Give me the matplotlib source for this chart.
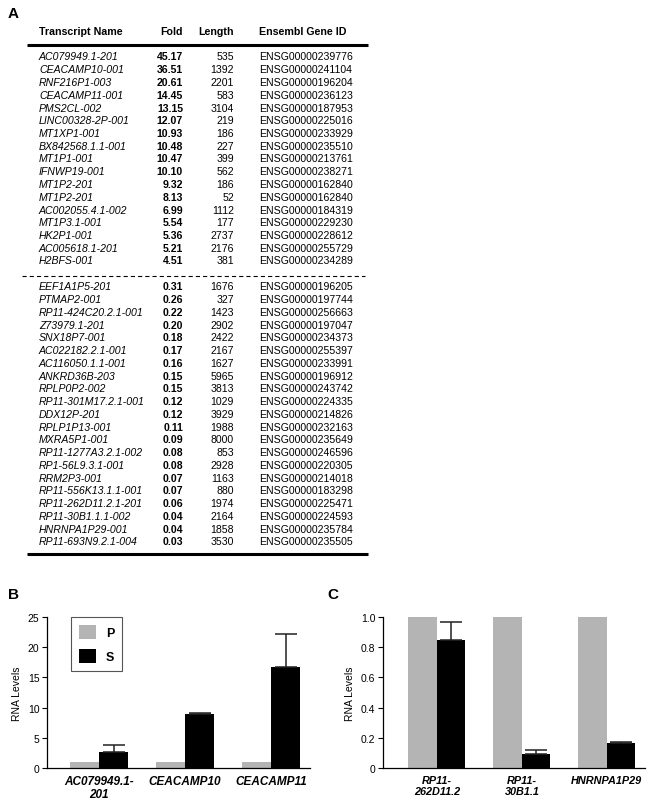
import matplotlib
matplotlib.use('Agg')
import matplotlib.pyplot as plt
import numpy as np

plt.rcParams['font.family'] = ['Liberation Sans', 'DejaVu Sans']
plt.rcParams['lines.scale_dashes'] = False

# ---- table data (panel A) ----
up_names = ['AC079949.1-201', 'CEACAMP10-001', 'RNF216P1-003', 'CEACAMP11-001',
            'PMS2CL-002', 'LINC00328-2P-001', 'MT1XP1-001', 'BX842568.1.1-001',
            'MT1P1-001', 'IFNWP19-001', 'MT1P2-201', 'MT1P2-201',
            'AC002055.4.1-002', 'MT1P3.1-001', 'HK2P1-001', 'AC005618.1-201',
            'H2BFS-001']
up_fold = [45.17, 36.51, 20.61, 14.45, 13.15, 12.07, 10.93, 10.48, 10.47, 10.10,
           9.32, 8.13, 6.99, 5.54, 5.36, 5.21, 4.51]
up_length = [535, 1392, 2201, 583, 3104, 219, 186, 227, 399, 562, 186, 52, 1112,
             177, 2737, 2176, 381]
up_ensembl = ['ENSG00000239776', 'ENSG00000241104', 'ENSG00000196204',
              'ENSG00000236123', 'ENSG00000187953', 'ENSG00000225016',
              'ENSG00000233929', 'ENSG00000235510', 'ENSG00000213761',
              'ENSG00000238271', 'ENSG00000162840', 'ENSG00000162840',
              'ENSG00000184319', 'ENSG00000229230', 'ENSG00000228612',
              'ENSG00000255729', 'ENSG00000234289']

down_names = ['EEF1A1P5-201', 'PTMAP2-001', 'RP11-424C20.2.1-001', 'Z73979.1-201',
              'SNX18P7-001', 'AC022182.2.1-001', 'AC116050.1.1-001', 'ANKRD36B-203',
              'RPLP0P2-002', 'RP11-301M17.2.1-001', 'DDX12P-201', 'RPLP1P13-001',
              'MXRA5P1-001', 'RP11-1277A3.2.1-002', 'RP1-56L9.3.1-001',
              'RRM2P3-001', 'RP11-556K13.1.1-001', 'RP11-262D11.2.1-201',
              'RP11-30B1.1.1-002', 'HNRNPA1P29-001', 'RP11-693N9.2.1-004']
down_fold = [0.31, 0.26, 0.22, 0.20, 0.18, 0.17, 0.16, 0.15, 0.15, 0.12, 0.12,
             0.11, 0.09, 0.08, 0.08, 0.07, 0.07, 0.06, 0.04, 0.04, 0.03]
down_length = [1676, 327, 1423, 2902, 2422, 2167, 1627, 5965, 3813, 1029, 3929,
               1988, 8000, 853, 2928, 1163, 880, 1974, 2164, 1858, 3530]
down_ensembl = ['ENSG00000196205', 'ENSG00000197744', 'ENSG00000256663',
                'ENSG00000197047', 'ENSG00000234373', 'ENSG00000255397',
                'ENSG00000233991', 'ENSG00000196912', 'ENSG00000243742',
                'ENSG00000224335', 'ENSG00000214826', 'ENSG00000232163',
                'ENSG00000235649', 'ENSG00000246596', 'ENSG00000220305',
                'ENSG00000214018', 'ENSG00000183298', 'ENSG00000225471',
                'ENSG00000224593', 'ENSG00000235784', 'ENSG00000235505']

headers = ['Transcript Name', 'Fold', 'Length', 'Ensembl Gene ID']

# ---- qPCR data (panels B and C) ----
b_genes = ['AC079949.1-\n201', 'CEACAMP10', 'CEACAMP11']
b_p = [1.0, 1.0, 1.0]
b_s = [2.6, 9.0, 16.7]
b_s_err = [1.2, 0.15, 5.5]

c_genes = ['RP11-\n262D11.2', 'RP11-\n30B1.1', 'HNRNPA1P29']
c_p = [1.0, 1.0, 1.0]
c_s = [0.845, 0.095, 0.165]
c_s_err = [0.125, 0.025, 0.006]

W, H = 654, 803
fig = plt.figure(figsize=(W / 100, H / 100), dpi=100)

# table drawn in pixel coordinates on a full-figure axes
tab = fig.add_axes([0, 0, 1, 1])
tab.set_xlim(0, W)
tab.set_ylim(H, 0)
tab.axis('off')

fs = 7.6
col_x = [39, 183, 234, 259]
col_ha = ['left', 'right', 'right', 'left']
for x, ha, h in zip(col_x, col_ha, headers):
    tab.text(x, 32, h, ha=ha, va='center', fontsize=7.7, fontweight='bold')
tab.plot([27, 368], [45.5, 45.5], color='black', lw=2.2, solid_capstyle='butt')

pitch = 12.75


def draw_rows(y0, names, fold, length, ens):
    for i, (n, f, l, e) in enumerate(zip(names, fold, length, ens)):
        y = y0 + i * pitch
        tab.text(col_x[0], y, n, ha='left', va='center', fontsize=fs, style='italic')
        tab.text(col_x[1], y, f'{f:.2f}', ha='right', va='center', fontsize=fs,
                 fontweight='bold')
        tab.text(col_x[2], y, str(l), ha='right', va='center', fontsize=fs)
        tab.text(col_x[3], y, e, ha='left', va='center', fontsize=fs)


draw_rows(57.5, up_names, up_fold, up_length, up_ensembl)
# dashed separator between up- and down-regulated transcripts
tab.plot([22, 365], [276.5, 276.5], color='black', lw=0.8,
         linestyle=(0, (3.0, 2.2)))
draw_rows(287.5, down_names, down_fold, down_length, down_ensembl)
tab.plot([27, 368], [555, 555], color='black', lw=2.2, solid_capstyle='butt')

tab.text(8, 14, 'A', fontsize=11, fontweight='bold', va='center', ha='left')
tab.text(8, 595, 'B', fontsize=11, fontweight='bold', va='center', ha='left')
tab.text(327, 595, 'C', fontsize=11, fontweight='bold', va='center', ha='left')

gray = '#b4b4b4'
bw = 0.335


def bar_panel(rect, genes, p, s, err, ylim, yticks, yticklabels, xlim, xfs):
    ax = fig.add_axes(rect)
    x = np.arange(len(genes))
    ax.bar(x - bw / 2, p, bw, color=gray, label='P')
    ax.bar(x + bw / 2, s, bw, color='black', label='S')
    ax.errorbar(x + bw / 2, s, yerr=[np.zeros(len(err)), err], fmt='none',
                ecolor='#222222', elinewidth=1.1, capsize=8, capthick=1.1)
    ax.set_ylim(*ylim)
    ax.set_xlim(*xlim)
    ax.set_yticks(yticks)
    ax.set_yticklabels(yticklabels, fontsize=7.5)
    ax.set_xticks(x)
    ax.set_xticklabels(genes, fontsize=xfs, fontweight='bold', style='italic',
                       linespacing=1.15)
    ax.tick_params(axis='x', length=0, pad=5)
    ax.tick_params(axis='y', length=3.5, width=0.8, pad=2)
    for sp in ['top', 'right']:
        ax.spines[sp].set_visible(False)
    for sp in ['left', 'bottom']:
        ax.spines[sp].set_linewidth(0.9)
    ax.set_ylabel('RNA Levels', fontsize=7.5, labelpad=4)
    return ax


axb = bar_panel([47 / W, 1 - 769 / H, 263 / W, 151 / H], b_genes, b_p, b_s, b_s_err,
                (0, 25), [0, 5, 10, 15, 20, 25], ['0', '5', '10', '15', '20', '25'],
                (-0.605, 2.45), 8.5)
leg = axb.legend(loc='upper left', bbox_to_anchor=(0.09, 1.0), borderaxespad=0,
                 fancybox=False, edgecolor='#555555', framealpha=1,
                 prop={'weight': 'bold', 'size': 9}, handlelength=1.4,
                 handleheight=1.3, labelspacing=0.8, borderpad=0.65,
                 handletextpad=0.75)
leg.get_frame().set_linewidth(0.8)

axc = bar_panel([383 / W, 1 - 769 / H, 262 / W, 151 / H], c_genes, c_p, c_s, c_s_err,
                (0, 1.0), [0, 0.2, 0.4, 0.6, 0.8, 1.0],
                ['0', '0.2', '0.4', '0.6', '0.8', '1.0'], (-0.635, 2.45), 7.8)

fig.savefig('out.png', dpi=100)
